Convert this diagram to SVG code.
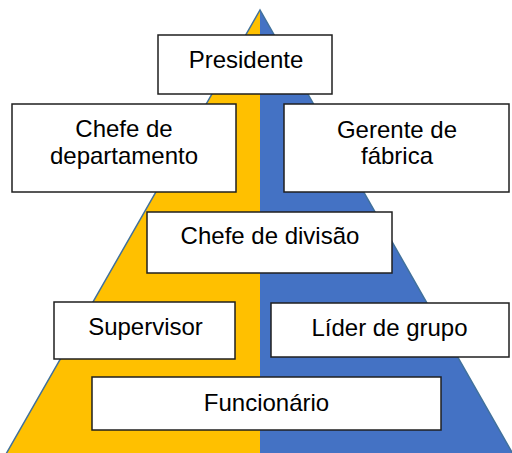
<svg xmlns="http://www.w3.org/2000/svg" width="512" height="453" viewBox="0 0 512 453">
  <style>
    .box { fill: #ffffff; stroke: #1f1f1f; stroke-width: 1.5; }
    .lbl { font-family: "Liberation Sans", Arial, sans-serif; font-size: 24px; fill: #000000; text-anchor: middle; }
  </style>
  <rect x="0" y="0" width="512" height="453" fill="#ffffff"/>
  <g id="pyramid">
    <polygon points="260,10 260,454 6,454" fill="#FFC000"/>
    <polygon points="260,10 513,454 260,454" fill="#4472C4"/>
    <polyline points="6,454 260,10 513,454" fill="none" stroke="#41719C" stroke-width="1.5"/>
  </g>
  <g id="connectors"></g>
  <g id="presidente">
    <rect class="box" x="158" y="35" width="174" height="59"/>
    <text class="lbl" x="246" y="68">Presidente</text>
  </g>
  <g id="chefe-departamento">
    <rect class="box" x="12" y="104" width="224" height="88"/>
    <text class="lbl" x="124" y="137">Chefe de</text>
    <text class="lbl" x="124" y="164">departamento</text>
  </g>
  <g id="gerente-fabrica">
    <rect class="box" x="284" y="104" width="225" height="88"/>
    <text class="lbl" x="397" y="137.5">Gerente de</text>
    <text class="lbl" x="397" y="164">fábrica</text>
  </g>
  <g id="chefe-divisao">
    <rect class="box" x="147" y="212" width="245" height="61"/>
    <text class="lbl" x="270" y="243.5">Chefe de divisão</text>
  </g>
  <g id="supervisor">
    <rect class="box" x="54" y="302" width="181" height="57"/>
    <text class="lbl" x="145.5" y="335">Supervisor</text>
  </g>
  <g id="lider-grupo">
    <rect class="box" x="271" y="303" width="238" height="54"/>
    <text class="lbl" x="389.5" y="336">Líder de grupo</text>
  </g>
  <g id="funcionario">
    <rect class="box" x="92" y="377" width="349" height="53"/>
    <text class="lbl" x="266.5" y="411">Funcionário</text>
  </g>
</svg>
